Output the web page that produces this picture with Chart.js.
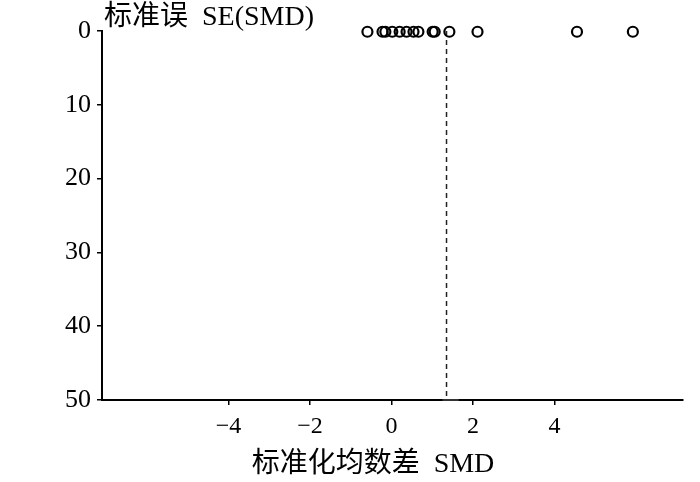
<!DOCTYPE html>
<html>
<head>
<meta charset="utf-8">
<script src="https://cdn.jsdelivr.net/npm/chart.js@4.4.1/dist/chart.umd.min.js"></script>
<style>
  html, body { margin: 0; padding: 0; background: #fff; }
  #wrap { width: 700px; height: 482px; }
</style>
</head>
<body>
<div id="wrap"><canvas id="mycanvas" width="700" height="482"></canvas></div>
<script>
// values
var smd = [-0.59, -0.22, -0.15, 0.02, 0.20, 0.37, 0.54, 0.66, 1.01, 1.06, 1.42, 2.11, 4.55, 5.92];
var se = [0.1, 0.1, 0.1, 0.1, 0.1, 0.1, 0.1, 0.1, 0.1, 0.1, 0.1, 0.1, 0.1, 0.1];
var pooled = 1.35;
var xTicks = [-4, -2, 0, 2, 4];
var yTicks = [0, 10, 20, 30, 40, 50];
var baseSeg = [1.25, 1.65];

var points = [];
for (var i in smd) {
  points.push({x: smd[i], y: se[i]});
}

var serif = '"Liberation Serif", "Noto Sans CJK SC", serif';

// axis captions drawn as text on the canvas
var captions = {
  id: 'captions',
  afterDraw: function(chart) {
    var c = chart.ctx;
    c.save();
    c.fillStyle = '#000';
    c.font = '28px ' + serif;
    c.textBaseline = 'middle';
    c.textAlign = 'left';
    c.fillText('标准误  SE(SMD)', 104, 18);
    c.textAlign = 'center';
    c.fillText('标准化均数差  SMD', 373, 465);
    c.restore();
  }
};

var ctx = document.getElementById('mycanvas');
var chart = new Chart(ctx, {
  type: 'scatter',
  data: {
    datasets: [
      {
        label: 'studies',
        data: points,
        pointStyle: 'circle',
        pointRadius: 5,
        pointBorderWidth: 2.2,
        borderColor: '#000',
        backgroundColor: 'rgba(255,255,255,0)',
        clip: false
      },
      {
        type: 'line',
        label: 'pooled',
        data: [{x: pooled, y: 0}, {x: pooled, y: 50}],
        borderColor: '#222',
        borderWidth: 1.5,
        borderDash: [5, 4],
        pointRadius: 0,
        fill: false,
        clip: false
      },
      {
        type: 'line',
        label: 'base',
        data: [{x: baseSeg[0], y: 50}, {x: baseSeg[1], y: 50}],
        borderColor: '#333',
        borderWidth: 2,
        pointRadius: 0,
        fill: false,
        clip: false
      }
    ]
  },
  options: {
    animation: false,
    responsive: false,
    layout: { padding: { top: 31, right: 17, left: 0, bottom: 0 } },
    plugins: { legend: { display: false }, tooltip: { enabled: false } },
    scales: {
      x: {
        type: 'linear',
        min: -7.1,
        max: 7.15,
        afterBuildTicks: function(s) { s.ticks = xTicks.map(function(v) { return {value: v}; }); },
        afterFit: function(s) { s.height = 82; },
        border: { color: '#000', width: 2 },
        grid: { display: true, drawOnChartArea: false, drawTicks: true, tickLength: 5, color: '#000', lineWidth: 1.5 },
        ticks: {
          color: '#000',
          padding: 7,
          font: { family: serif, size: 24 },
          callback: function(v) { return v < 0 ? '\u2212' + Math.abs(v) : '' + v; }
        }
      },
      y: {
        type: 'linear',
        reverse: true,
        min: 0,
        max: 50,
        afterBuildTicks: function(s) { s.ticks = yTicks.map(function(v) { return {value: v}; }); },
        afterFit: function(s) { s.width = 102; },
        border: { color: '#000', width: 2 },
        grid: { display: true, drawOnChartArea: false, drawTicks: true, tickLength: 5, color: '#000', lineWidth: 1.5 },
        ticks: {
          color: '#000',
          padding: 6,
          font: { family: serif, size: 26 }
        }
      }
    }
  },
  plugins: [captions]
});
</script>
</body>
</html>
